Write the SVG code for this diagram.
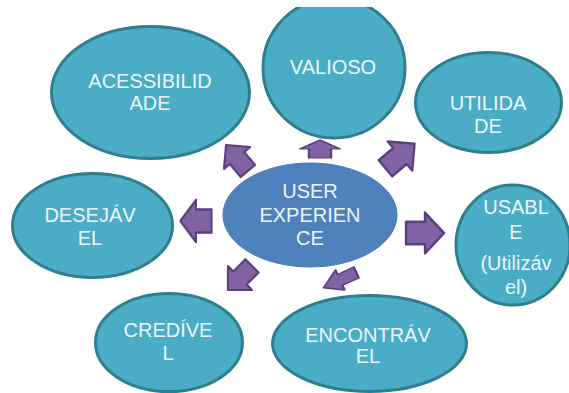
<svg xmlns="http://www.w3.org/2000/svg" width="569" height="393" viewBox="0 0 569 393">
<style>
.node{fill:#4bacc6;stroke:#2d7f90;stroke-width:3}
.center{fill:#4f81bd;stroke:#4a7cb8;stroke-width:1}
.lbl{font-family:"Liberation Sans",Arial,sans-serif;font-size:20px;fill:#eaf5f9;text-anchor:middle}
.arr{fill:#8064a2;stroke:#5c3f80;stroke-width:2.5;stroke-linejoin:round;vector-effect:non-scaling-stroke}
</style>
<defs>
<path id="ar" d="M-20,-11 L0,-11 L0,-20 L20,0 L0,20 L0,11 L-20,11 Z"/>
<clipPath id="topclip"><rect x="0" y="7" width="569" height="386"/></clipPath>
</defs>
<rect width="569" height="393" fill="#ffffff"/>
<g id="connectors">
<use href="#ar" class="arr" transform="translate(237,158) rotate(-130) scale(0.85)"/>
<use href="#ar" class="arr" transform="translate(320,149) rotate(-90) scale(0.45,1)"/>
<use href="#ar" class="arr" transform="translate(400,156) rotate(-40) scale(0.95)"/>
<use href="#ar" class="arr" transform="translate(196,221) rotate(180) scale(0.78,1.05)"/>
<use href="#ar" class="arr" transform="translate(425,233) scale(0.95,1.02)"/>
<use href="#ar" class="arr" transform="translate(240,278) rotate(135) scale(0.85)"/>
<use href="#ar" class="arr" transform="translate(340,280) rotate(155) scale(0.9,0.55)"/>
</g>
<g id="n-center">
<ellipse class="center" cx="310" cy="215" rx="87" ry="52"/>
<text class="lbl" x="310" y="198">USER</text>
<text class="lbl" x="310" y="222">EXPERIEN</text>
<text class="lbl" x="310" y="245">CE</text>
</g>
<g id="n-acessibilidade">
<ellipse class="node" cx="150.5" cy="92.5" rx="99" ry="66"/>
<text class="lbl" x="150" y="88">ACESSIBILID</text>
<text class="lbl" x="150" y="110">ADE</text>
</g>
<g id="n-valioso">
<ellipse class="node" cx="334" cy="68" rx="71" ry="70" clip-path="url(#topclip)"/>
<text class="lbl" x="333" y="74">VALIOSO</text>
</g>
<g id="n-utilidade">
<ellipse class="node" cx="488.5" cy="102.5" rx="73" ry="50"/>
<text class="lbl" x="488" y="110">UTILIDA</text>
<text class="lbl" x="488" y="133">DE</text>
</g>
<g id="n-usable">
<ellipse class="node" cx="513" cy="245" rx="57" ry="60"/>
<text class="lbl" x="516" y="214">USABL</text>
<text class="lbl" x="516" y="239">E</text>
<text class="lbl" x="516" y="270">(Utilizáv</text>
<text class="lbl" x="516" y="294">el)</text>
</g>
<g id="n-desejavel">
<ellipse class="node" cx="92.5" cy="225.5" rx="80" ry="52"/>
<text class="lbl" x="90" y="222">DESEJÁV</text>
<text class="lbl" x="90" y="245">EL</text>
</g>
<g id="n-credivel">
<ellipse class="node" cx="169" cy="342.5" rx="73.5" ry="49"/>
<text class="lbl" x="168" y="337">CREDÍVE</text>
<text class="lbl" x="168" y="360">L</text>
</g>
<g id="n-encontravel">
<ellipse class="node" cx="369.5" cy="343.5" rx="97" ry="48"/>
<text class="lbl" x="368" y="342">ENCONTRÁV</text>
<text class="lbl" x="368" y="363">EL</text>
</g>
</svg>
